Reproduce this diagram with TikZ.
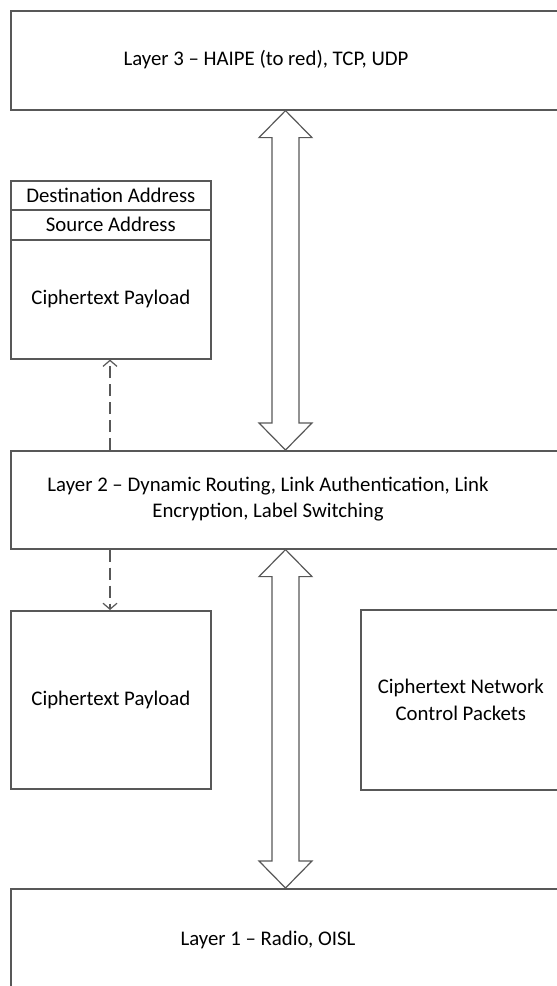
\documentclass[tikz,border=0pt]{standalone}
\usepackage{fontspec}
\setmainfont{Carlito}
\usetikzlibrary{calc,arrows.meta}
\definecolor{edgegray}{RGB}{88,88,88}
\tikzset{
  box/.style={draw=edgegray, line width=1.6pt, fill=white, inner sep=0pt, anchor=north west},
  txt/.style={align=center, inner sep=0pt, font=\fontsize{20.8}{26.5}\selectfont, text=black},
  bigarrow/.style={draw=edgegray, line width=1.2pt, fill=white, line join=miter},
  dasharrow/.style={draw=edgegray, line width=1.4pt, dash pattern=on 12pt off 6pt,
    -{Straight Barb[length=6pt,width=14pt,line width=1.2pt]}}
}
\begin{document}
\begin{tikzpicture}[x=1pt,y=-1pt]
\useasboundingbox (0,0) rectangle (557,986);
\clip (0,0) rectangle (557,986);

% layer boxes (running past the right edge)
\node[box, minimum width=560pt, minimum height=99pt] (L3) at (10,10) {};
\node[box, minimum width=560pt, minimum height=98pt] (L2) at (10,450) {};
\node[box, minimum width=560pt, minimum height=120pt] (L1) at (10,888) {};
\node[txt] (L3t) at (266,60) {Layer 3 – HAIPE (to red), TCP, UDP};
\node[txt] (L2t) at (268,499) {Layer 2 – Dynamic Routing, Link Authentication, Link\\Encryption, Label Switching};
\node[txt] (L1t) at (268,940) {Layer 1 – Radio, OISL};

% packet with header fields
\node[box, minimum width=200pt, minimum height=29pt] (dst) at (10,180) {};
\node[box, minimum width=200pt, minimum height=30pt] (src) at (10,209) {};
\node[box, minimum width=200pt, minimum height=119pt] (pay1) at (10,239) {};
\node[txt] at (dst.center) {Destination Address};
\node[txt] at (src.center) {Source Address};
\node[txt] at (pay1.center) {Ciphertext Payload};

% lower payload and control packets
\node[box, minimum width=200pt, minimum height=178pt] (pay2) at (10,610) {};
\node[txt] at (pay2.center) {Ciphertext Payload};
\node[box, minimum width=200pt, minimum height=180pt] (ctrl) at (360,609) {};
\node[txt] at (ctrl.center) {Ciphertext Network\\Control Packets};

% wide double arrows between layers
\coordinate (ax) at (285.5,0);
\path (L3.south -| ax) coordinate (t1) (L2.north -| ax) coordinate (b1);
\path (L2.south -| ax) coordinate (t2) (L1.north -| ax) coordinate (b2);
\foreach \t/\b in {t1/b1,t2/b2}{
  \draw[bigarrow] (\t) -- ($(\t)+(26.5,27)$) -- ($(\t)+(13.5,27)$) -- ($(\b)+(13.5,-27)$)
    -- ($(\b)+(26.5,-27)$) -- (\b) -- ($(\b)+(-26.5,-27)$) -- ($(\b)+(-13.5,-27)$)
    -- ($(\t)+(-13.5,27)$) -- ($(\t)+(-26.5,27)$) -- cycle;
}

% dashed packet flows
\coordinate (dx) at (110,0);
\draw[dasharrow] (L2.north -| dx) -- (pay1.south -| dx);
\draw[dasharrow] (L2.south -| dx) -- (pay2.north -| dx);
\end{tikzpicture}
\end{document}
